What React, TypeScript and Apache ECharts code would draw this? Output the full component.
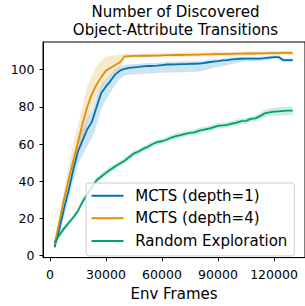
import React, { useEffect, useRef } from "react";
import * as echarts from "echarts";

const frames = [2500, 5000, 7500, 10000, 12500, 15000, 17500, 20000, 22500, 25000, 27500, 30000, 32500, 35000, 37500, 40000, 42500, 45000, 47500, 50000, 52500, 55000, 57500, 60000, 62500, 65000, 67500, 70000, 72500, 75000, 77500, 80000, 82500, 85000, 87500, 90000, 92500, 95000, 97500, 100000, 102500, 105000, 107500, 110000, 112500, 115000, 117500, 120000, 122500, 125000, 127500, 130000];

const depth1Mean = [4.5, 14, 25, 35, 46, 56, 62, 68, 72, 80, 87.5, 91, 94, 97.5, 99.5, 100.5, 101, 101.3, 101.5, 101.8, 102, 102, 102.2, 102.5, 102.8, 102.8, 102.9, 103, 103, 103.1, 103.2, 103.3, 103.6, 104, 104.3, 104.6, 105, 105.2, 105.5, 105.7, 105.9, 106, 106, 106, 106, 106.2, 106.5, 106.8, 106.8, 105.1, 105.1, 105.1];
const depth1Upper = [5.5, 17, 29, 40, 51, 61, 68, 74, 78, 85, 92, 95, 97.5, 100, 102, 102.5, 102.8, 103, 103.2, 103.4, 103.6, 103.6, 103.8, 104, 104.3, 104.3, 104.4, 104.5, 104.5, 104.6, 104.7, 104.8, 105, 105.3, 105.6, 105.8, 106.2, 106.4, 106.6, 106.8, 107, 107, 107, 107, 107, 107.2, 107.4, 107.7, 107.7, 106, 106, 106];
const depth1Lower = [3.5, 11, 21, 30, 40, 49, 54, 59, 63, 70, 79, 84, 88, 92, 95, 97, 97.3, 97.5, 97.6, 97.8, 98, 98, 98.2, 98.4, 98.5, 98.5, 98.5, 98.6, 98.6, 98.7, 98.8, 99, 99.5, 100.3, 101, 101.5, 102, 102.5, 103, 103.4, 104, 104.5, 104.6, 104.7, 104.8, 105, 105.3, 105.6, 105.6, 104, 104, 104];

const depth4Mean = [6, 18, 30, 41, 51, 61, 71, 80, 87, 92, 96, 99.5, 101, 102.5, 104, 107.2, 107.3, 107.4, 107.4, 107.5, 107.5, 107.6, 107.6, 107.7, 107.8, 107.8, 107.9, 107.9, 108, 108, 108.1, 108.1, 108.2, 108.2, 108.3, 108.4, 108.4, 108.5, 108.5, 108.6, 108.6, 108.7, 108.7, 108.7, 108.8, 108.8, 108.9, 108.9, 108.9, 109, 109, 109];
const depth4Upper = [7, 21, 35, 48, 60, 70, 81, 91, 97, 102, 105, 107, 107.5, 107.8, 108, 108.5, 108.5, 108.6, 108.6, 108.7, 108.7, 108.8, 108.8, 108.9, 109, 109, 109.1, 109.1, 109.2, 109.2, 109.3, 109.3, 109.4, 109.4, 109.5, 109.6, 109.6, 109.7, 109.7, 109.8, 109.8, 109.9, 109.9, 109.9, 110, 110, 110.1, 110.1, 110.1, 110.2, 110.2, 110.2];
const depth4Lower = [5, 15, 26, 36, 45, 54, 63, 72, 79, 85, 90, 95, 97, 99, 101.5, 106, 106.2, 106.3, 106.3, 106.4, 106.4, 106.5, 106.5, 106.6, 106.7, 106.7, 106.8, 106.8, 106.9, 106.9, 107, 107, 107.1, 107.1, 107.2, 107.3, 107.3, 107.4, 107.4, 107.5, 107.5, 107.6, 107.6, 107.6, 107.7, 107.7, 107.8, 107.8, 107.8, 107.9, 107.9, 107.9];

const randomMean = [7, 11, 14.5, 17.5, 20.5, 24, 29, 33, 37, 40.5, 42.5, 44.5, 46.3, 48, 49.5, 51, 53, 55, 56, 57.5, 58.5, 60, 61, 61.5, 62.3, 63.5, 64.3, 64.8, 65.5, 66, 66.3, 67.2, 67.8, 68.3, 69, 69.8, 70, 70.3, 71, 71.5, 72.3, 72.5, 73.5, 73.8, 75, 76.5, 77, 77.4, 77.6, 77.8, 78, 78];
const randomUpper = [8, 12.5, 16, 19, 22, 25.5, 30.5, 34.5, 38.5, 42, 44, 46, 48, 49.5, 51, 52.5, 54.5, 56.5, 57.5, 59, 60, 61.5, 62.5, 63, 63.8, 65, 65.8, 66.3, 67, 67.5, 67.8, 68.7, 69.3, 69.8, 70.5, 71.3, 71.5, 71.8, 72.5, 73, 73.8, 74, 75, 75.5, 76.8, 78.3, 79, 79.5, 79.8, 80, 80.2, 80.2];
const randomLower = [6, 9.5, 13, 16, 19, 22.5, 27.5, 31.5, 35.5, 39, 41, 43, 44.6, 46.5, 48, 49.5, 51.5, 53.5, 54.5, 56, 57, 58.5, 59.5, 60, 60.8, 62, 62.8, 63.3, 64, 64.5, 64.8, 65.7, 66.3, 66.8, 67.5, 68.3, 68.5, 68.8, 69.5, 70, 70.7, 70.8, 71.8, 72, 73, 74.5, 75, 75.2, 75.2, 75.3, 75.5, 75.5];

const xTicks = [0, 30000, 60000, 90000, 120000];
const yTicks = [0, 20, 40, 60, 80, 100];
const seriesNames = ["MCTS (depth=1)", "MCTS (depth=4)", "Random Exploration"];
const titleLines = ["Number of Discovered", "Object-Attribute Transitions"];
const xAxisName = "Env Frames";

const FONT = "DejaVu Sans";

function band(upper: number[], lower: number[], fill: string) {
  return {
    type: "custom",
    coordinateSystem: "cartesian2d",
    silent: true,
    clip: true,
    data: [[frames[0], lower[0]]],
    renderItem: (_params: any, api: any) => {
      const pts: number[][] = [];
      for (let i = 0; i < frames.length; i++) pts.push(api.coord([frames[i], upper[i]]));
      for (let i = frames.length - 1; i >= 0; i--) pts.push(api.coord([frames[i], lower[i]]));
      return { type: "polygon", shape: { points: pts }, style: { fill } };
    },
  };
}

function line(name: string, mean: number[], color: string) {
  return {
    type: "line",
    name,
    data: frames.map((f, i) => [f, mean[i]]),
    showSymbol: false,
    symbol: "none",
    color,
    lineStyle: { color, width: 1.8 },
  };
}

export default function App() {
  const ref = useRef<HTMLDivElement>(null);
  useEffect(() => {
    document.body.style.margin = "0";
    if (!ref.current) return;
    const chart = echarts.init(ref.current, null, { renderer: "svg" });
    const blue = "#0173b2";
    const orange = "#de8f05";
    const green = "#029e73";
    const titleStyle = { fontFamily: FONT, fontSize: 15, fontWeight: "normal", color: "#000", lineHeight: 15 };
    chart.setOption({
      animation: false,
      textStyle: { fontFamily: FONT },
      title: [
        { text: titleLines[0], left: 175.5, textAlign: "center", top: 4.1, padding: 0, textStyle: titleStyle },
        { text: titleLines[1], left: 175.5, textAlign: "center", top: 22.1, padding: 0, textStyle: titleStyle },
      ],
      grid: {
        left: 43,
        top: 42,
        width: 265,
        height: 222,
        show: true,
        borderColor: "#000",
        borderWidth: 1,
        backgroundColor: "transparent",
      },
      legend: {
        data: seriesNames,
        orient: "vertical",
        left: 86,
        top: 183,
        padding: [4.7, 7, 7, 5.5],
        icon: "rect",
        itemWidth: 32,
        itemHeight: 2,
        itemGap: 6.6,
        backgroundColor: "rgba(255,255,255,0.8)",
        borderColor: "#cccccc",
        borderWidth: 1,
        borderRadius: 3,
        selectedMode: false,
        textStyle: { fontFamily: FONT, fontSize: 15, color: "#000", lineHeight: 16, padding: [0, 0, 0, 6.7] },
      },
      xAxis: {
        type: "value",
        min: -3706,
        max: 136590,
        name: xAxisName,
        nameLocation: "middle",
        nameGap: 27,
        nameTextStyle: { fontFamily: FONT, fontSize: 15, color: "#000" },
        axisLine: { onZero: false, lineStyle: { color: "#000", width: 1 } },
        axisTick: { show: true, length: 3.5, lineStyle: { color: "#000" }, customValues: xTicks },
        axisLabel: {
          fontFamily: FONT,
          fontSize: 12.5,
          color: "#000",
          margin: 10.5,
          customValues: xTicks,
          formatter: (v: number) => String(v),
        },
        splitLine: { show: false },
      },
      yAxis: {
        type: "value",
        min: -1.1,
        max: 114.9,
        axisLine: { show: true, onZero: false, lineStyle: { color: "#000", width: 1 } },
        axisTick: { show: true, length: 3.5, lineStyle: { color: "#000" }, customValues: yTicks },
        axisLabel: {
          fontFamily: FONT,
          fontSize: 12.5,
          color: "#000",
          margin: 8.5,
          customValues: yTicks,
          formatter: (v: number) => String(v),
        },
        splitLine: { show: false },
      },
      series: [
        band(depth1Upper, depth1Lower, "rgba(1,115,178,0.2)"),
        line(seriesNames[0], depth1Mean, blue),
        band(depth4Upper, depth4Lower, "rgba(222,143,5,0.2)"),
        line(seriesNames[1], depth4Mean, orange),
        band(randomUpper, randomLower, "rgba(2,158,115,0.2)"),
        line(seriesNames[2], randomMean, green),
      ],
    });
    return () => chart.dispose();
  }, []);
  return <div ref={ref} style={{ width: 305, height: 306 }} />;
}
